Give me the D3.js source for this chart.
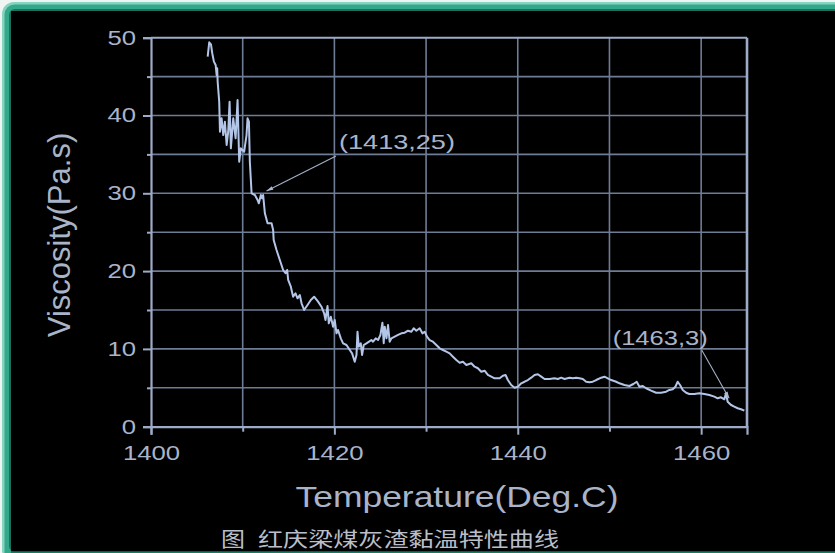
<!DOCTYPE html>
<html>
<head>
<meta charset="utf-8">
<script src="https://cdn.jsdelivr.net/npm/d3@7"></script>
<style>
  html, body { margin: 0; padding: 0; background: #fff; }
  svg { display: block; }
</style>
</head>
<body>
<script>
// Slag viscosity vs temperature
const temperature = [1406.18,1406.35,1406.54,1406.68,1406.86,1407.05,1407.16,1407.22,1407.27,1407.44,
  1407.52,1407.70,1407.88,1408.06,1408.25,1408.42,1408.57,1408.71,1408.97,1409.23,
  1409.44,1409.62,1409.80,1410.16,1410.42,1410.53,1410.68,1410.78,1410.97,1411.33,
  1411.62,1411.76,1411.98,1412.12,1412.23,1412.42,1412.71,1413.15,1413.32,1413.38,
  1413.69,1414.05,1414.41,1414.67,1414.85,1414.96,1415.25,1415.50,1415.76,1415.98,
  1416.23,1416.42,1416.70,1417.07,1417.43,1417.79,1418.22,1418.59,1418.88,1419.03,
  1419.25,1419.39,1419.61,1419.86,1420.04,1420.23,1420.40,1420.70,1420.95,1421.32,
  1421.68,1421.93,1422.22,1422.41,1422.52,1422.66,1422.88,1423.02,1423.20,1423.50,
  1423.78,1424.04,1424.22,1424.51,1424.76,1425.02,1425.24,1425.38,1425.49,1425.68,
  1425.85,1426.03,1426.22,1426.58,1426.94,1427.31,1427.67,1428.03,1428.40,1428.65,
  1428.94,1429.30,1429.60,1429.85,1430.10,1430.39,1430.75,1431.12,1431.48,1431.84,
  1432.21,1432.57,1432.93,1433.30,1433.66,1434.02,1434.39,1434.93,1435.29,1435.65,
  1436.02,1436.38,1436.74,1437.11,1437.47,1438.02,1438.38,1438.67,1438.92,1439.29,
  1439.65,1440.01,1440.38,1440.74,1441.10,1441.47,1441.83,1442.19,1442.56,1442.92,
  1443.46,1444.01,1444.37,1444.74,1445.10,1445.64,1446.00,1446.37,1446.73,1447.09,
  1447.46,1447.82,1448.18,1448.55,1449.10,1449.46,1449.82,1450.19,1450.73,1451.09,
  1451.63,1452.18,1452.61,1452.97,1453.27,1453.63,1454.00,1454.54,1455.09,1455.63,
  1456.18,1456.54,1456.90,1457.19,1457.44,1457.70,1457.99,1458.36,1458.71,1459.26,
  1459.80,1460.35,1460.89,1461.44,1461.80,1462.17,1462.53,1462.71,1462.89,1463.26,
  1463.62,1463.98,1464.35,1464.71];

const viscosity = [47.56,49.41,49.15,48.0,46.92,46.49,45.2,46.07,44.34,41.77,
  37.92,39.64,37.49,39.2,36.21,37.92,41.77,35.78,39.64,37.07,
  41.99,34.06,35.78,35.35,37.49,39.64,39.2,34.06,30.0,29.78,
  29.14,28.71,29.78,29.36,29.78,27.43,26.14,26.14,25.28,24.0,
  22.71,21.43,20.14,19.72,20.14,18.86,18.0,16.71,17.15,16.5,
  16.93,15.86,15.0,15.64,16.29,16.71,16.07,15.42,14.58,13.71,
  15.51,13.29,14.14,12.85,13.71,12.0,12.43,11.36,10.72,10.5,
  9.86,9.43,8.35,9.22,12.21,10.28,10.72,9.22,10.5,10.72,
  10.93,11.14,10.93,11.36,11.14,11.79,13.37,10.72,12.85,11.36,
  13.07,10.93,11.36,11.57,11.79,12.0,12.08,12.34,12.21,12.65,
  12.34,12.65,12.0,12.21,11.57,11.14,10.93,10.5,10.08,9.86,
  9.64,9.43,9.0,8.57,8.23,8.35,7.93,8.15,7.71,7.51,
  7.07,7.2,6.65,6.43,6.22,6.22,6.56,6.65,6.0,5.36,
  5.01,5.14,5.58,5.78,6.0,6.3,6.65,6.74,6.43,6.13,
  6.13,6.22,6.13,6.3,6.13,6.3,6.22,6.3,6.22,6.13,
  5.78,5.71,5.78,6.0,6.3,6.43,6.22,6.0,5.78,5.58,
  5.36,5.23,5.49,5.78,5.14,5.23,4.94,4.63,4.37,4.37,
  4.5,4.72,4.81,5.14,5.78,5.36,4.72,4.37,4.2,4.2,
  4.29,4.2,4.07,3.86,3.65,3.78,3.52,4.29,3.21,2.79,
  2.57,2.37,2.24,2.06];

const xTicks = [1400, 1410, 1420, 1430, 1440, 1450, 1460];
const xTickLabels = ["1400", "", "1420", "", "1440", "", "1460"];
const yTicks = [0, 5, 10, 15, 20, 25, 30, 35, 40, 45, 50];
const yTickLabels = ["0", "", "10", "", "20", "", "30", "", "40", "", "50"];

const xTitle = "Temperature(Deg.C)";
const yTitle = "Viscosity(Pa.s)";
const captionLead = "图";
const captionBody = "红庆梁煤灰渣黏温特性曲线";

// callouts: label position, leader start, leader tip (data units)
const calloutText = ["(1413,25)", "(1463,3)"];
const calloutLabelAt = [[1420.5, 35.7], [1450.35, 10.45]];
const calloutFrom = [[1420.18, 34.8], [1460.06, 9.86]];
const calloutTo = [[1412.6, 30.3], [1463.05, 3.65]];
const calloutWidth = [116, 95];

const W = 835, H = 553;
const textCol = "#a9b4c9";
const gridCol = "#6f7c96";
const axisCol = "#9dabc6";
const lineCol = "#b3c6e8";

const svg = d3.select("body").append("svg").attr("width", W).attr("height", H);

// slide frame
svg.append("rect").attr("width", W).attr("height", H).attr("fill", "#eef5f3");
svg.append("rect").attr("x", 2).attr("y", 2).attr("width", 900).attr("height", 560)
  .attr("rx", 12).attr("fill", "#86d3bf");
svg.append("rect").attr("x", 4.5).attr("y", 4.5).attr("width", 900).attr("height", 560)
  .attr("rx", 10).attr("fill", "#33a88b");
svg.append("rect").attr("x", 9).attr("y", 9).attr("width", 900).attr("height", 543)
  .attr("rx", 6).attr("fill", "#1d6f5c");
svg.append("rect").attr("x", 11).attr("y", 11).attr("width", 900).attr("height", 540.5)
  .attr("fill", "#000");
svg.append("rect").attr("x", 11).attr("y", 551.5).attr("width", 900).attr("height", 2)
  .attr("fill", "#1f7a64");

const x = d3.scaleLinear().domain([1400, 1465]).range([151, 747]);
const y = d3.scaleLinear().domain([0, 50]).range([426.7, 37.7]);

// grid
const grid = svg.append("g");
grid.selectAll("line.v").data(xTicks.filter(t => t > 1400)).join("line")
  .attr("x1", d => x(d)).attr("x2", d => x(d))
  .attr("y1", y(0)).attr("y2", y(50))
  .attr("stroke", gridCol).attr("stroke-width", 1.6);
grid.selectAll("line.h").data(yTicks.filter(t => t > 0 && t < 50)).join("line")
  .attr("x1", x(1400)).attr("x2", x(1465))
  .attr("y1", d => y(d)).attr("y2", d => y(d))
  .attr("stroke", gridCol).attr("stroke-width", 1.6);

// frame top / right
svg.append("line").attr("x1", x(1400)).attr("x2", x(1465)).attr("y1", y(50)).attr("y2", y(50))
  .attr("stroke", axisCol).attr("stroke-width", 2);
svg.append("line").attr("x1", x(1465)).attr("x2", x(1465)).attr("y1", y(50)).attr("y2", y(0))
  .attr("stroke", axisCol).attr("stroke-width", 2.6);

const digitW = 14.3;

// x axis
const gx = svg.append("g").attr("transform", `translate(0,${y(0)})`)
  .call(d3.axisBottom(x).tickValues(xTicks).tickSizeOuter(0).tickSize(8).tickPadding(10)
    .tickFormat((d, i) => xTickLabels[i]));
gx.select(".domain").attr("stroke", axisCol).attr("stroke-width", 2.2);
gx.selectAll(".tick line").attr("stroke", axisCol).attr("stroke-width", 2)
  .attr("y2", (d, i) => xTickLabels[i] ? 8 : 5);
gx.selectAll(".tick text").attr("fill", textCol)
  .style("font-family", "'Liberation Sans', Arial, sans-serif").style("font-size", "21px")
  .attr("textLength", (d, i) => xTickLabels[i].length * digitW)
  .attr("lengthAdjust", "spacingAndGlyphs");

// y axis
const gy = svg.append("g").attr("transform", `translate(${x(1400)},0)`)
  .call(d3.axisLeft(y).tickValues(yTicks).tickSizeOuter(0).tickSize(8).tickPadding(7)
    .tickFormat((d, i) => yTickLabels[i]));
gy.select(".domain").attr("stroke", axisCol).attr("stroke-width", 2.2);
gy.selectAll(".tick line").attr("stroke", axisCol).attr("stroke-width", 2)
  .attr("x2", (d, i) => yTickLabels[i] ? -8 : -4);
gy.selectAll(".tick text").attr("fill", textCol)
  .style("font-family", "'Liberation Sans', Arial, sans-serif").style("font-size", "20px")
  .attr("textLength", (d, i) => yTickLabels[i].length * digitW)
  .attr("lengthAdjust", "spacingAndGlyphs");

// curve
const pts = d3.zip(temperature, viscosity);
svg.append("path").datum(pts)
  .attr("d", d3.line().x(d => x(d[0])).y(d => y(d[1])))
  .attr("fill", "none").attr("stroke", lineCol).attr("stroke-width", 2)
  .attr("stroke-linejoin", "round");

// callouts
svg.append("defs").append("marker").attr("id", "tip")
  .attr("viewBox", "0 -3 10 6").attr("refX", 10).attr("refY", 0)
  .attr("markerWidth", 9).attr("markerHeight", 4).attr("orient", "auto")
  .attr("markerUnits", "userSpaceOnUse")
  .append("path").attr("d", "M0,-3L10,0L0,3Z").attr("fill", "#aab8d2");

calloutText.forEach((t, i) => {
  svg.append("line")
    .attr("x1", x(calloutFrom[i][0])).attr("y1", y(calloutFrom[i][1]))
    .attr("x2", x(calloutTo[i][0])).attr("y2", y(calloutTo[i][1]))
    .attr("stroke", "#a3b0c8").attr("stroke-width", 1.1)
    .attr("marker-end", "url(#tip)");
  svg.append("text")
    .attr("x", x(calloutLabelAt[i][0])).attr("y", y(calloutLabelAt[i][1]))
    .attr("fill", textCol)
    .style("font-family", "'Liberation Sans', Arial, sans-serif").style("font-size", "21px")
    .attr("textLength", calloutWidth[i]).attr("lengthAdjust", "spacingAndGlyphs")
    .text(t);
});

// titles
svg.append("text").attr("x", 457).attr("y", 507).attr("text-anchor", "middle")
  .attr("fill", textCol)
  .style("font-family", "'Liberation Sans', Arial, sans-serif").style("font-size", "30px")
  .attr("textLength", 323).attr("lengthAdjust", "spacingAndGlyphs")
  .text(xTitle);

svg.append("text").attr("transform", "translate(70,235) rotate(-90)")
  .attr("text-anchor", "middle").attr("fill", textCol)
  .style("font-family", "'Liberation Sans', Arial, sans-serif").style("font-size", "31px")
  .text(yTitle);

// caption below the chart
svg.append("text").attr("x", 221).attr("y", 547)
  .attr("fill", "#b9bec8")
  .style("font-family", "'Noto Sans CJK SC', sans-serif").style("font-size", "20px")
  .attr("textLength", 24).attr("lengthAdjust", "spacingAndGlyphs")
  .text(captionLead);
svg.append("text").attr("x", 258).attr("y", 547)
  .attr("fill", "#b9bec8")
  .style("font-family", "'Noto Sans CJK SC', sans-serif").style("font-size", "20px")
  .attr("textLength", 301).attr("lengthAdjust", "spacingAndGlyphs")
  .text(captionBody);
</script>
</body>
</html>
